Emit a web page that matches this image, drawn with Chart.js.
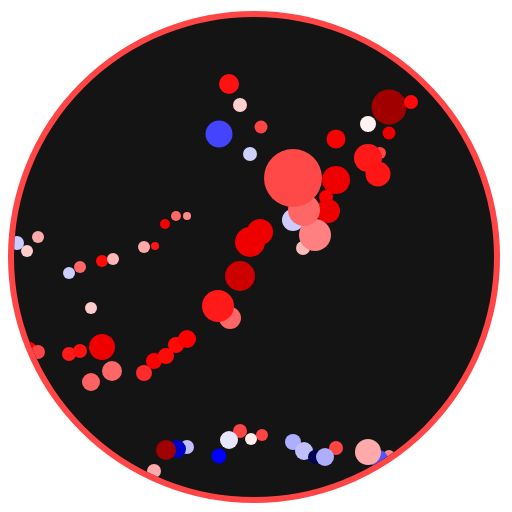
<!DOCTYPE html>
<html>
<head>
<meta charset="utf-8">
<script src="https://cdn.jsdelivr.net/npm/chart.js@4"></script>
<style>
  html, body { margin: 0; padding: 0; background: #ffffff; }
  #wrap {
    position: absolute; left: 8px; top: 11px;
    width: 480px; height: 480px;
    border: 6px solid #ff4545;
    border-radius: 50%;
    overflow: hidden;
    background: #141414;
  }
  canvas { display: block; }
</style>
</head>
<body>
<div id="wrap"><canvas id="c" width="480" height="480"></canvas></div>
<script>
// Bubble data
const xs = [229,240,219,250,261,389,411,368,389,336,380,368,378,336,326,328,293,303,315,304,293,250,260,240,230,218,
            165,176,187,144,155,17,38,27,69,80,102,113,91,30,38,69,80,102,112,91,144,154,166,176,187,
            187,177,166,154,219,240,229,262,251,293,304,315,336,325,389,379,368];
const ys = [84,105,134,154,127,107,102,124,133,139,153,158,174,180,197,211,220,248,235,210,178,242,232,276,318,306,
            224,216,216,247,246,243,237,251,273,267,261,259,308,348,352,354,351,347,371,382,373,361,356,345,339,
            447,449,450,471,456,431,440,435,439,442,451,457,448,457,456,459,452];
const rs = [10,7,13.5,7,6.5,17.5,7,8,6.5,9.5,6,14,12.5,14,7,12,11,7,16,16,29,15,13,15,11,16,
            5,5,4,6,4,7,6,6,6,6,6,6,6,6,7,7,7,13,10,9,8,8,8,8,9,
            7,9,10,7,7.5,7,9,6,6,8,9,7,7,9,6,9,13];
const vals = [0.56,0.11,-0.44,-0.11,0.44,0.96,0.58,0.03,0.66,0.63,0.44,0.54,0.55,0.66,0.62,0.66,-0.12,0.16,0.3,0.36,0.43,0.66,0.66,0.79,0.36,0.54,
              0.63,0.36,0.28,0.2,0.55,-0.12,0.2,0.12,-0.12,0.36,0.58,0.17,0.12,0.6,0.44,0.54,0.56,0.66,0.36,0.37,0.5,0.6,0.58,0.58,0.6,
              -0.15,-0.72,0.96,0.2,-0.6,0.44,-0.06,0.44,0.04,-0.19,-0.15,-1,0.44,-0.19,0.28,-0.4,0.2];

const stops = [[-1,[0,0,80]],[-0.6,[0,0,255]],[0,[255,255,255]],[0.6,[255,0,0]],[1,[150,0,0]]];
function colorFor(v) {
  for (let i = 0; i < stops.length - 1; i++) {
    const [a, ca] = stops[i], [b, cb] = stops[i + 1];
    if (v <= b || i === stops.length - 2) {
      const t = Math.max(0, Math.min(1, (v - a) / (b - a)));
      const c = ca.map((x, k) => Math.round(x + (cb[k] - x) * t));
      return 'rgb(' + c.join(',') + ')';
    }
  }
}

const points = xs.map((x, i) => ({ x: x, y: ys[i], r: rs[i] }));
const colors = vals.map(colorFor);

new Chart(document.getElementById('c'), {
  type: 'bubble',
  data: {
    datasets: [{
      data: points,
      backgroundColor: colors,
      borderWidth: 0,
      hoverBorderWidth: 0
    }]
  },
  options: {
    responsive: false,
    devicePixelRatio: 1,
    animation: false,
    clip: false,
    layout: { padding: 0, autoPadding: false },
    plugins: { legend: { display: false }, tooltip: { enabled: false } },
    scales: {
      x: { display: false, min: 14, max: 494 },
      y: { display: false, min: 17, max: 497, reverse: true }
    }
  }
});
</script>
</body>
</html>
